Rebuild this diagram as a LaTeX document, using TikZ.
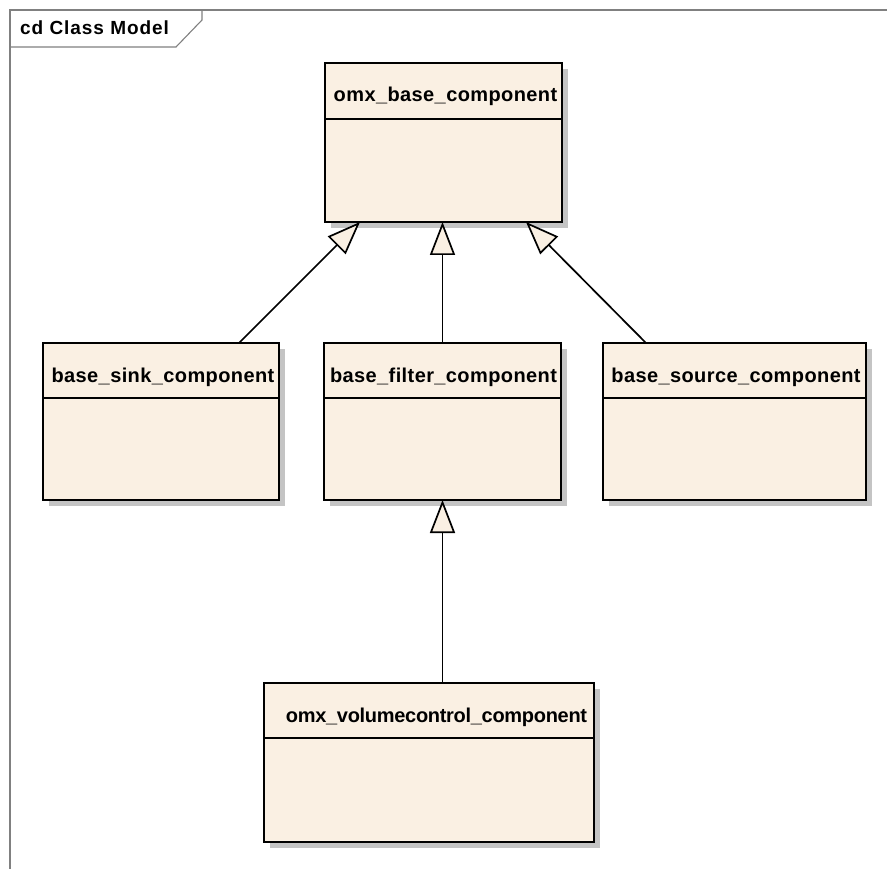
\documentclass[tikz,border=0pt]{standalone}
\usepackage{fontspec}
\setmainfont{Liberation Sans}
\newfontfamily\umlfont[LetterSpace=2]{Liberation Sans}
\newfontfamily\umlfontnarrow[LetterSpace=-1.5]{Liberation Sans}
\newfontfamily\titlefont[LetterSpace=5]{Liberation Sans}
\usetikzlibrary{arrows.meta,shadows}
\definecolor{clsfill}{HTML}{FAF0E3}
\definecolor{framegray}{HTML}{808080}
\definecolor{shadowgray}{HTML}{C4C4C4}
\tikzset{
  cls/.style={draw=black, line width=1.7pt, fill=clsfill, rectangle, inner sep=0pt, outer sep=0pt,
    anchor=north west, drop shadow={shadow xshift=6pt, shadow yshift=-6pt, fill=shadowgray, opacity=1}},
  clsname/.style={anchor=base, inner sep=0pt, font=\umlfont\bfseries\fontsize{20}{24}\selectfont},
  divider/.style={line width=1.7pt},
  gen/.style={line width=1.7pt, -{Triangle[length=33pt, width=25pt, fill=clsfill, line join=miter]}},
  frameline/.style={draw=framegray, line width=1.1pt},
}
\begin{document}
\begin{tikzpicture}[x=1pt, y=-1pt]
\useasboundingbox (0,0) rectangle (887,869);
% frame
\draw[frameline] (10,869) -- (10,10) -- (887,10);
\draw[frameline] (10,47) -- (176,47) -- (202,20) -- (202,10);
\node[anchor=base west, inner sep=0pt, font=\titlefont\bfseries\fontsize{19}{22}\selectfont] (title) at (20,35) {cd Class Model};
% classes
\node[cls, minimum width=237pt, minimum height=159pt] (base) at (325,63) {};
\draw[divider] (325,119) -- (562,119);
\node[clsname] (basetxt) at (445.5,102) {omx\_base\_component};

\node[cls, minimum width=236pt, minimum height=157pt] (sink) at (43,343) {};
\draw[divider] (43,398) -- (279,398);
\node[clsname] (sinktxt) at (163,382) {base\_sink\_component};

\node[cls, minimum width=237pt, minimum height=157pt] (filter) at (324,343) {};
\draw[divider] (324,398) -- (561,398);
\node[clsname] (filtertxt) at (443.5,382) {base\_filter\_component};

\node[cls, minimum width=263pt, minimum height=157pt] (source) at (603,343) {};
\draw[divider] (603,398) -- (866,398);
\node[clsname] (sourcetxt) at (736,382) {base\_source\_component};

\node[cls, minimum width=330pt, minimum height=159pt] (vol) at (264,683) {};
\draw[divider] (264,738) -- (594,738);
\node[clsname, font=\umlfontnarrow\bfseries\fontsize{20}{24}\selectfont] (voltxt) at (436.5,722) {omx\_volumecontrol\_component};

% generalizations
\draw[gen] ([xshift=-40pt]sink.north east) -- ([xshift=35pt]base.south west);
\draw[gen] (filter.north) -- (filter.north |- base.south);
\draw[gen] ([xshift=43pt]source.north west) -- ([xshift=-36pt]base.south east);
\draw[gen] (filter.south |- vol.north) -- (filter.south);
\end{tikzpicture}
\end{document}
